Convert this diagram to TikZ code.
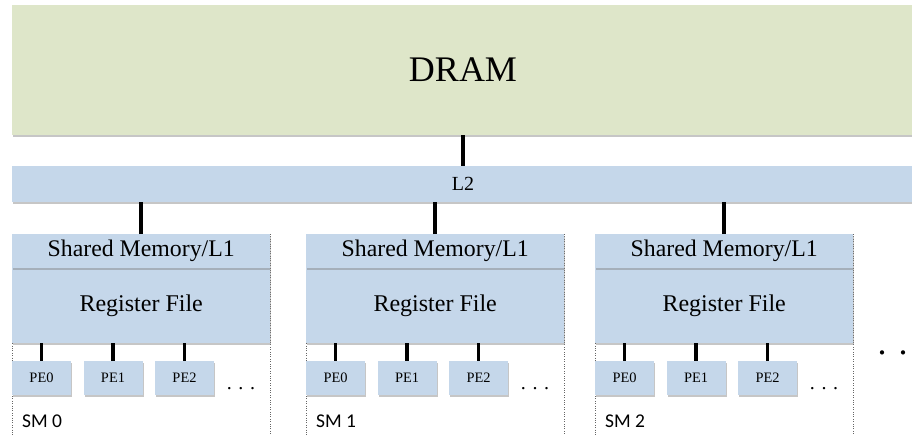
\documentclass[tikz,border=0pt]{standalone}
\usepackage{fontspec}
\setmainfont{Liberation Serif}
\newfontfamily\smfont{Carlito}
\usetikzlibrary{shadows}
\definecolor{dramgreen}{RGB}{222,230,201}
\definecolor{memblue}{RGB}{197,215,234}

\begin{document}
\begin{tikzpicture}[x=1pt, y=-1pt]
        % Common styles
        \tikzstyle{unit}=[fill=memblue, inner sep=0pt, drop shadow={shadow xshift=1pt, shadow yshift=-1.5pt, opacity=0.45}]
        \tikzstyle{wire}=[line width=3.5pt, black]
        \tikzstyle{smframe}=[draw=black!60, dotted, inner sep=0pt, anchor=north west, minimum width=258pt, minimum height=215pt]
        \useasboundingbox (0,0) rectangle (912,434);

        % --- DRAM and L2 ---
        \node[unit, fill=dramgreen, minimum width=902pt, minimum height=130pt, font=\fontsize{36}{40}\selectfont] (dram) at (463,70) {DRAM};
        \node[unit, minimum width=902pt, minimum height=36pt, font=\fontsize{20}{24}\selectfont] (l2) at (463,184) {L2};
        \draw[wire] (dram.south) -- (l2.north);

        % --- Streaming multiprocessors ---
        \foreach \i/\x in {0/12, 1/306, 2/595} {
            \node[smframe] (sm\i) at (\x,234) {};
            \node[unit, anchor=north west, minimum width=258pt, minimum height=75pt, font=\fontsize{24}{28}\selectfont] (rf\i) at (\x,268) {Register File};
            \node[unit, anchor=north west, minimum width=258pt, minimum height=34pt, font=\fontsize{23.8}{28}\selectfont] (mem\i) at (\x,234) {Shared Memory/L1};
            \draw[wire] (mem\i.north) -- (mem\i.north |- l2.south);
            % PEs
            \foreach \j in {0,1,2} {
                \node[unit, minimum width=59pt, minimum height=34pt, font=\fontsize{14.4}{17}\selectfont] (pe\i\j) at (\x+29.5+71.5*\j,378) {PE\j};
                \draw[wire] (pe\i\j.north) -- (pe\i\j.north |- rf\i.south);
            }
            \node[anchor=base, inner sep=0pt, font=\fontsize{20}{24}\selectfont] (pedots\i) at (\x+229,389.5) {. . .};
            \node[anchor=west, inner sep=0pt, font=\smfont\fontsize{19.5}{23}\selectfont] (smlabel\i) at (\x+10,421) {SM \i};
        }

        % More SMs
        \node[anchor=base, inner sep=0pt, font=\fontsize{36}{40}\selectfont] (moresm) at (903,354) {. . .};
    \end{tikzpicture}
\end{document}
